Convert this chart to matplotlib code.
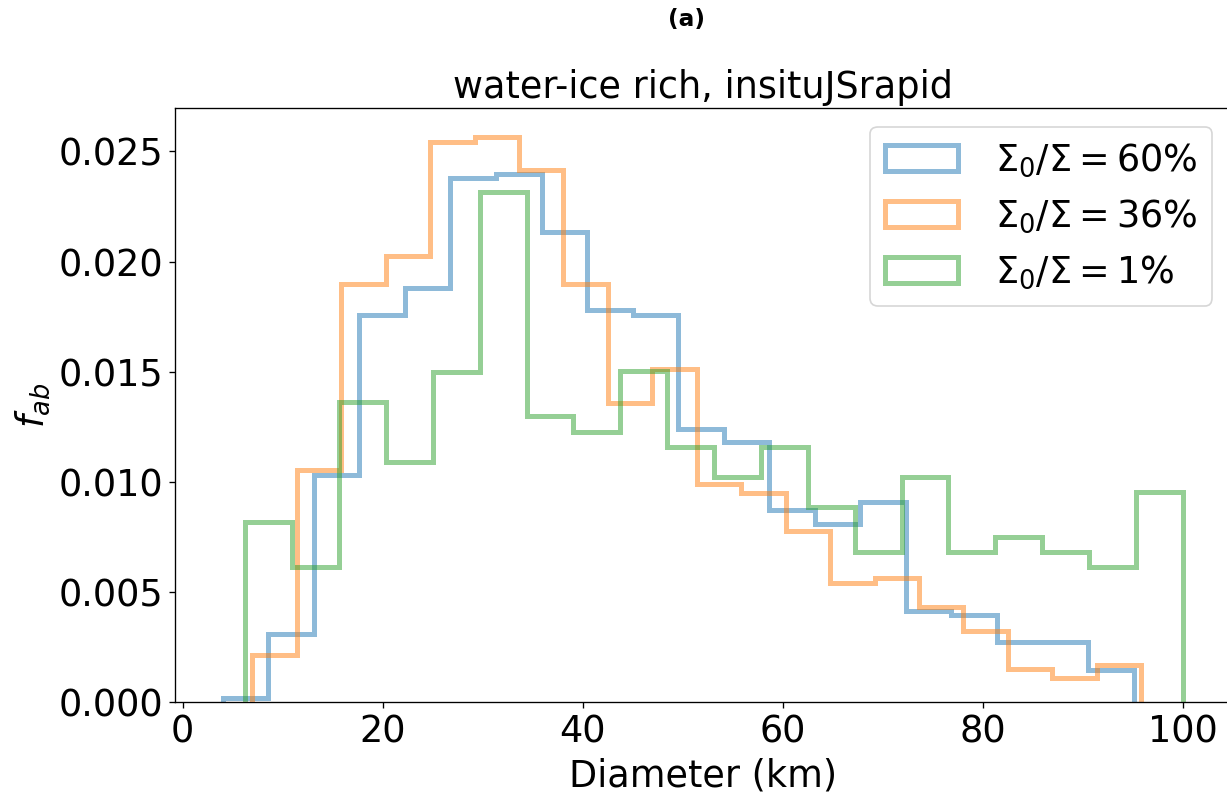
import numpy as np
import matplotlib
matplotlib.use('Agg')
import matplotlib.pyplot as plt

# diameter range (km) covered by each run's 20 bins
lo_60, hi_60 = 4.0, 95.1
lo_36, hi_36 = 6.96, 95.86
lo_01, hi_01 = 6.27, 100.0

# normalised abundance per bin
f_60 = [0.0002, 0.0031, 0.01033, 0.01757, 0.01882, 0.02379, 0.0240, 0.02133,
        0.01779, 0.01759, 0.01241, 0.01179, 0.0087, 0.00808, 0.0091, 0.00415,
        0.00394, 0.00271, 0.00271, 0.00145]
f_36 = [0.00215, 0.01055, 0.01897, 0.02027, 0.02545, 0.02567, 0.02414, 0.01899,
        0.0136, 0.01512, 0.00992, 0.0095, 0.00777, 0.0054, 0.00562, 0.0043,
        0.00324, 0.00152, 0.0011, 0.00168]
f_01 = [0.00817, 0.00615, 0.01362, 0.01091, 0.015, 0.02315, 0.01297, 0.01227,
        0.01502, 0.01158, 0.01023, 0.01158, 0.00885, 0.00682, 0.01023, 0.00682,
        0.00749, 0.00682, 0.00615, 0.00955]

labels = [r'$\Sigma_0/\Sigma = 60\%$', r'$\Sigma_0/\Sigma = 36\%$', r'$\Sigma_0/\Sigma = 1\%$']

dpi = 120
fig = plt.figure(figsize=(1227 / dpi, 797 / dpi), dpi=dpi)
ax = fig.add_axes([0.1424, 0.1192, 0.8606, 0.7447])

series = [(f_60, lo_60, hi_60), (f_36, lo_36, hi_36), (f_01, lo_01, hi_01)]
for i, (vals, lo, hi) in enumerate(series):
    edges = np.linspace(lo, hi, len(vals) + 1)
    # one weighted entry per bin -> step outline of the binned values
    ax.hist(edges[:-1], bins=edges, weights=vals, histtype='step',
            color='C%d' % i, alpha=0.5, linewidth=3, label=labels[i])

ax.set_title('water-ice rich, insituJSrapid', fontsize=22)
ax.set_xlabel('Diameter (km)', fontsize=22)
ax.set_ylabel(r'$f_{ab}$', fontsize=22)
ax.tick_params(labelsize=22)
ax.legend(fontsize=22, loc='upper right', handletextpad=1.0)

fig.text(686 / 1227, 1 - 8 / 797, '(a)', ha='center', va='top', fontsize=14, fontweight='bold')

fig.savefig('out.png', dpi=dpi)
